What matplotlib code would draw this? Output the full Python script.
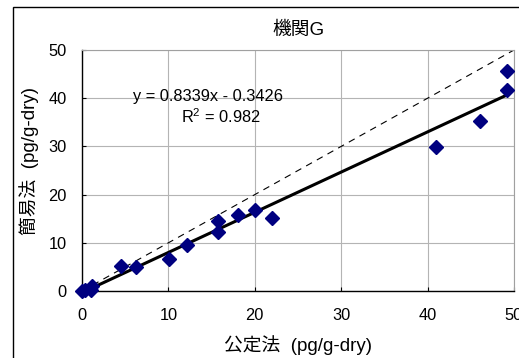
import matplotlib
matplotlib.use("Agg")
import matplotlib.pyplot as plt
from matplotlib.patches import Rectangle
import numpy as np

plt.rcParams['font.family'] = ['Liberation Sans', 'Noto Sans CJK JP']
plt.rcParams['mathtext.fontset'] = 'custom'
plt.rcParams['mathtext.rm'] = 'Liberation Sans'
plt.rcParams['mathtext.it'] = 'Liberation Sans'

# data
x_official = [0.0, 0.3, 1.0, 1.1, 4.5, 6.3, 10.1, 12.1, 15.7, 15.7, 18.0, 20.0, 22.0, 41.0, 46.1, 49.2, 49.2]
y_simple = [0.0, 0.2, 0.3, 1.0, 5.2, 4.9, 6.6, 9.5, 14.5, 12.2, 15.8, 16.8, 15.1, 29.9, 35.3, 41.7, 45.6]
slope = 0.8339
intercept = -0.3426
r2 = 0.982
ticks = [0, 10, 20, 30, 40, 50]
title = "機関G"
xlabel = "公定法  (pg/g-dry)"
ylabel = "簡易法  (pg/g-dry)"

W, H = 519, 358
fig = plt.figure(figsize=(W / 100, H / 100), dpi=100)

def fx(px):
    return px / W

def fy(py):
    return 1 - py / H

# outer chart border
fig.patches.append(Rectangle((fx(13), fy(400)), fx(600) - fx(13), fy(7) - fy(400),
                             transform=fig.transFigure, fill=False, edgecolor='black',
                             linewidth=1.0))

ax = fig.add_axes([fx(82), fy(291), (514 - 82) / W, (291 - 50) / H])
ax.set_xlim(0, 50)
ax.set_ylim(0, 50)
ax.set_xticks(ticks)
ax.set_yticks(ticks)
ax.grid(True, color='#b4b4b4', linewidth=0.8)
ax.set_axisbelow(True)
for s in ['top', 'right']:
    ax.spines[s].set_color('#a0a0a0')
    ax.spines[s].set_linewidth(0.8)
for s in ['left', 'bottom']:
    ax.spines[s].set_color('black')
    ax.spines[s].set_linewidth(1.0)
ax.tick_params(axis='x', direction='in', length=3, pad=12, labelsize=11.8)
ax.tick_params(axis='y', direction='in', length=3, pad=11, labelsize=11.8)

# 1:1 line
xr = np.array([0, 50])
ax.plot(xr, xr, color='black', linewidth=0.8, linestyle=(0, (6, 5)), zorder=2)
# regression line
xf = np.array([0, max(x_official)])
ax.plot(xf, slope * xf + intercept, color='black', linewidth=2.2, zorder=3, clip_on=False)
ax.plot(x_official, y_simple, linestyle='none', marker='D', markersize=7.5,
        color='#000080', zorder=4, clip_on=False)

fig.text(fx(208), fy(97), f"y = {slope}x - {-intercept}", ha='center', va='center', fontsize=11.8)
fig.text(fx(221), fy(117), r"R$^{\mathrm{2}}$" + f" = {r2}", ha='center', va='center', fontsize=11.8)

fig.text(fx(298), fy(30), title, ha='center', va='center', fontsize=13.5)
fig.text(fx(298), fy(345), xlabel, ha='center', va='center', fontsize=13.5)
fig.text(fx(29), fy(161), ylabel, ha='center', va='center', rotation=90, fontsize=13.5)

fig.savefig("out.png", dpi=100)
